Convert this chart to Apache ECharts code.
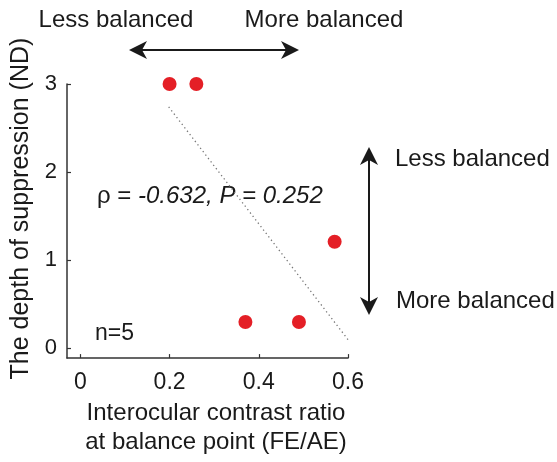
<!DOCTYPE html>
<html>
<head>
<meta charset="utf-8">
<script src="https://cdn.jsdelivr.net/npm/echarts@6/dist/echarts.min.js"></script>
<style>
  html, body { margin: 0; padding: 0; background: #fff; }
  #chart { width: 557px; height: 462px; }
</style>
</head>
<body>
<div id="chart"></div>
<script>
// Interocular contrast ratio at balance point vs. depth of suppression
const balanceRatio = [0.20, 0.26, 0.37, 0.49, 0.57];
const suppressionND = [3.0, 3.0, 0.30, 0.30, 1.21];
// fitted trend line end points
const fitX = [0.198, 0.60];
const fitY = [2.74, 0.10];
const xTicks = [0, 0.2, 0.4, 0.6];
const yTicks = [0, 1, 2, 3];
const statsText = { rho: '-0.632', p: '0.252', n: 5 };

const FONT = 'Liberation Sans, Arial, Helvetica, sans-serif';
const INK = '#1a1a1a';
const AXIS = '#333';

const points = balanceRatio.map((x, i) => [x, suppressionND[i]]);
const fitLine = fitX.map((x, i) => [x, fitY[i]]);

// double-headed arrow made of a shaft and two concave heads
function arrow(x1, y1, x2, y2) {
  const len = Math.hypot(x2 - x1, y2 - y1);
  const ux = (x2 - x1) / len, uy = (y2 - y1) / len;
  const px = -uy, py = ux;
  const L = 18, W = 9, N = 13;
  const head = (tx, ty, dx, dy) => [
    [tx, ty],
    [tx + dx * L + px * W, ty + dy * L + py * W],
    [tx + dx * N, ty + dy * N],
    [tx + dx * L - px * W, ty + dy * L - py * W]
  ];
  return [
    { type: 'line', shape: { x1: x1 + ux * 8, y1: y1 + uy * 8, x2: x2 - ux * 8, y2: y2 - uy * 8 },
      style: { stroke: INK, lineWidth: 2 } },
    { type: 'polygon', shape: { points: head(x1, y1, ux, uy) }, style: { fill: INK } },
    { type: 'polygon', shape: { points: head(x2, y2, -ux, -uy) }, style: { fill: INK } }
  ];
}

const chart = echarts.init(document.getElementById('chart'), null, { renderer: 'canvas' });
chart.setOption({
  animation: false,
  backgroundColor: '#fff',
  grid: { left: 67, top: 84, width: 281, height: 282, containLabel: false },
  xAxis: {
    type: 'value',
    min: -0.03,
    max: 0.6,
    splitLine: { show: false },
    axisLine: { show: true, onZero: false, lineStyle: { color: AXIS, width: 1.5 } },
    axisTick: { show: true, inside: true, length: 4, customValues: xTicks, lineStyle: { color: AXIS, width: 1.2 } },
    axisLabel: { customValues: xTicks, color: INK, fontFamily: FONT, fontSize: 23, margin: 13,
      formatter: v => (v === 0 ? '0' : String(+v.toFixed(1))) },
    name: 'Interocular contrast ratio\nat balance point (FE/AE)',
    nameLocation: 'middle',
    nameGap: 37,
    nameTextStyle: { color: INK, fontFamily: FONT, fontSize: 24, lineHeight: 29, padding: [0, 0, 0, 17] }
  },
  yAxis: {
    type: 'value',
    min: -0.11,
    max: 3,
    splitLine: { show: false },
    axisLine: { show: true, onZero: false, lineStyle: { color: AXIS, width: 1.5 } },
    axisTick: { show: true, inside: true, length: 4, customValues: yTicks, lineStyle: { color: AXIS, width: 1.2 } },
    axisLabel: { customValues: yTicks, color: INK, fontFamily: FONT, fontSize: 22, margin: 10 },
    name: 'The depth of suppression (ND)',
    nameLocation: 'middle',
    nameRotate: 90,
    nameGap: 28,
    nameTextStyle: { color: INK, fontFamily: FONT, fontSize: 25, padding: [0, 0, 0, 25] }
  },
  series: [
    {
      type: 'line',
      data: fitLine,
      symbol: 'none',
      silent: true,
      lineStyle: { color: '#777', width: 1.3, type: [1.3, 3] },
      z: 1
    },
    {
      type: 'scatter',
      data: points,
      symbol: 'circle',
      symbolSize: 14,
      itemStyle: { color: '#e41f26', opacity: 1 },
      z: 3
    }
  ],
  graphic: [
    ...arrow(129, 50, 299, 50),
    ...arrow(369, 147, 369, 315),
    { type: 'text', x: 116, y: 20, style: { text: 'Less balanced', font: `24px ${FONT}`, fill: INK, align: 'center', verticalAlign: 'middle' } },
    { type: 'text', x: 324, y: 20, style: { text: 'More balanced', font: `24px ${FONT}`, fill: INK, align: 'center', verticalAlign: 'middle' } },
    { type: 'text', x: 395, y: 159, style: { text: 'Less balanced', font: `24px ${FONT}`, fill: INK, align: 'left', verticalAlign: 'middle' } },
    { type: 'text', x: 396, y: 301, style: { text: 'More balanced', font: `24px ${FONT}`, fill: INK, align: 'left', verticalAlign: 'middle' } },
    {
      type: 'text', x: 97, y: 196,
      style: {
        text: `{n|ρ = }{i|${statsText.rho}, P = ${statsText.p}}`,
        verticalAlign: 'middle',
        rich: {
          n: { font: `24px ${FONT}`, fill: INK },
          i: { font: `italic 24px ${FONT}`, fill: INK }
        }
      }
    },
    { type: 'text', x: 95, y: 334, style: { text: `n=${statsText.n}`, font: `23px ${FONT}`, fill: INK, align: 'left', verticalAlign: 'middle' } }
  ]
});
</script>
</body>
</html>
